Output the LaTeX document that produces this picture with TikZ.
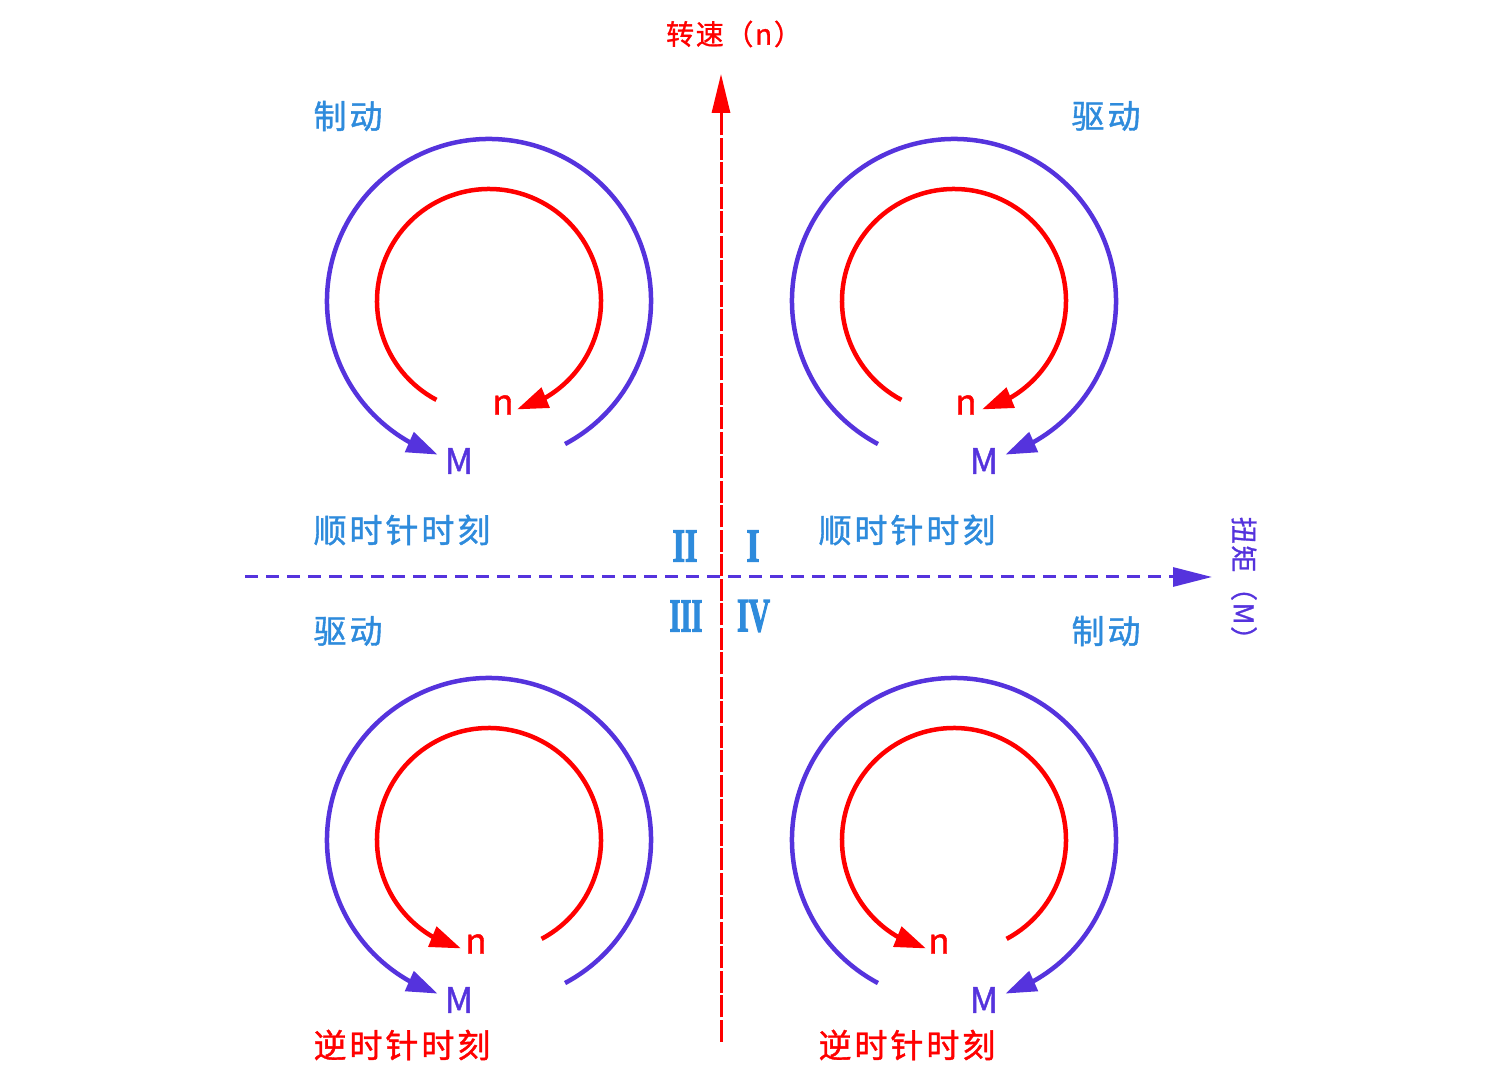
\documentclass[tikz,border=0pt]{standalone}
\usepackage{fontspec}
\usetikzlibrary{arrows.meta,bending}
\newfontfamily\cjk[FakeBold=1.2]{Noto Sans CJK SC}
\newfontfamily\cjkls[LetterSpace=9,FakeBold=1.2]{Noto Sans CJK SC}
\newfontfamily\cjkax[LetterSpace=6,FakeBold=1]{Noto Sans CJK SC}
\newfontfamily\romfont[FakeBold=3]{Liberation Serif}
\definecolor{myred}{HTML}{FF0000}
\definecolor{mypurple}{HTML}{5533DD}
\definecolor{myblue}{HTML}{2E8BDC}
\begin{document}
\begin{tikzpicture}[x=1pt,y=1pt,
  redarc/.style={draw=myred,line width=4.5pt,-{Triangle[length=31pt,width=21pt,flex]}},
  bluearc/.style={draw=mypurple,line width=4.5pt,-{Triangle[length=31pt,width=21pt,flex]}},
  quadlbl/.style={text=myblue,font=\cjkls\fontsize{33}{33}\selectfont,inner sep=0pt},
  senselbl/.style={font=\cjkls\fontsize{33}{33}\selectfont,inner sep=0pt},
  nlbl/.style={text=myred,font=\cjk\fontsize{35}{35}\selectfont,inner sep=0pt},
  mlbl/.style={text=mypurple,font=\cjk\fontsize{35}{35}\selectfont,inner sep=0pt},
  roman/.style={text=myblue,font=\romfont\bfseries,inner sep=0pt},
  vaxis/.style={draw=myred,line width=3pt,dash pattern=on 22pt off 2.5pt,-{Triangle[length=39pt,width=18pt]}},
  haxis/.style={draw=mypurple,line width=3pt,dash pattern=on 13pt off 8pt,-{Triangle[length=39pt,width=19pt]}},
]
\useasboundingbox (0,0) rectangle (1500,1079);

% axes
\coordinate (vb) at (721,37);
\coordinate (vt) at (721,1005);
\coordinate (hl) at (245,502);
\coordinate (hr) at (1212,502);
\draw[vaxis] (vb) -- (vt);
\draw[haxis] (hl) -- (hr);
\node[text=myred,font=\cjkax\fontsize{28}{28}\selectfont,inner sep=0pt] (nax) at (734,1045) {转速（n）};
\node[text=mypurple,font=\cjkax\fontsize{27}{27}\selectfont,inner sep=0pt,rotate=-90] (max) at (1244,494) {扭矩（M）};

% centers
\coordinate (cTL) at (489,778);
\coordinate (cTR) at (954,778);
\coordinate (cBL) at (489,239);
\coordinate (cBR) at (954,239);

% top-left
\draw[redarc] ([shift={(242:112)}]cTL) arc[start angle=242,end angle=-75.5,radius=112];
\draw[bluearc] ([shift={(-62:162)}]cTL) arc[start angle=-62,end angle=251.5,radius=162];
% top-right
\draw[redarc] ([shift={(242:112)}]cTR) arc[start angle=242,end angle=-75.5,radius=112];
\draw[bluearc] ([shift={(242:162)}]cTR) arc[start angle=242,end angle=-71.5,radius=162];
% bottom-left
\draw[redarc] ([shift={(-62:112)}]cBL) arc[start angle=-62,end angle=255.5,radius=112];
\draw[bluearc] ([shift={(-62:162)}]cBL) arc[start angle=-62,end angle=251.5,radius=162];
% bottom-right
\draw[redarc] ([shift={(-62:112)}]cBR) arc[start angle=-62,end angle=255.5,radius=112];
\draw[bluearc] ([shift={(242:162)}]cBR) arc[start angle=242,end angle=-71.5,radius=162];

% n / M labels
\node[nlbl] (nTL) at (503,674) {n};
\node[nlbl] (nTR) at (966,674) {n};
\node[nlbl] (nBL) at (476,135) {n};
\node[nlbl] (nBR) at (939,135) {n};
\node[mlbl] (mTL) at (459,618) {M};
\node[mlbl] (mTR) at (984,618) {M};
\node[mlbl] (mBL) at (459,79) {M};
\node[mlbl] (mBR) at (984,79) {M};

% quadrant labels
\node[quadlbl] (qTL) at (348,963) {制动};
\node[quadlbl] (qTR) at (1106,963) {驱动};
\node[quadlbl] (qBL) at (348,448) {驱动};
\node[quadlbl] (qBR) at (1106,448) {制动};
\node[senselbl,text=myblue] (sTL) at (402,549) {顺时针时刻};
\node[senselbl,text=myblue] (sTR) at (907,549) {顺时针时刻};
\node[senselbl,text=myred] (sBL) at (402,34) {逆时针时刻};
\node[senselbl,text=myred] (sBR) at (907,34) {逆时针时刻};

% roman numerals
\node[roman] (r2) at (685,533) {\resizebox{25pt}{31pt}{II}};
\node[roman] (r1) at (753,533) {\resizebox{13pt}{31pt}{I}};
\node[roman] (r3) at (686,463) {\resizebox{33pt}{31pt}{III}};
\node[roman] (r4) at (753.5,463) {\resizebox{33pt}{31pt}{IV}};
\end{tikzpicture}
\end{document}
